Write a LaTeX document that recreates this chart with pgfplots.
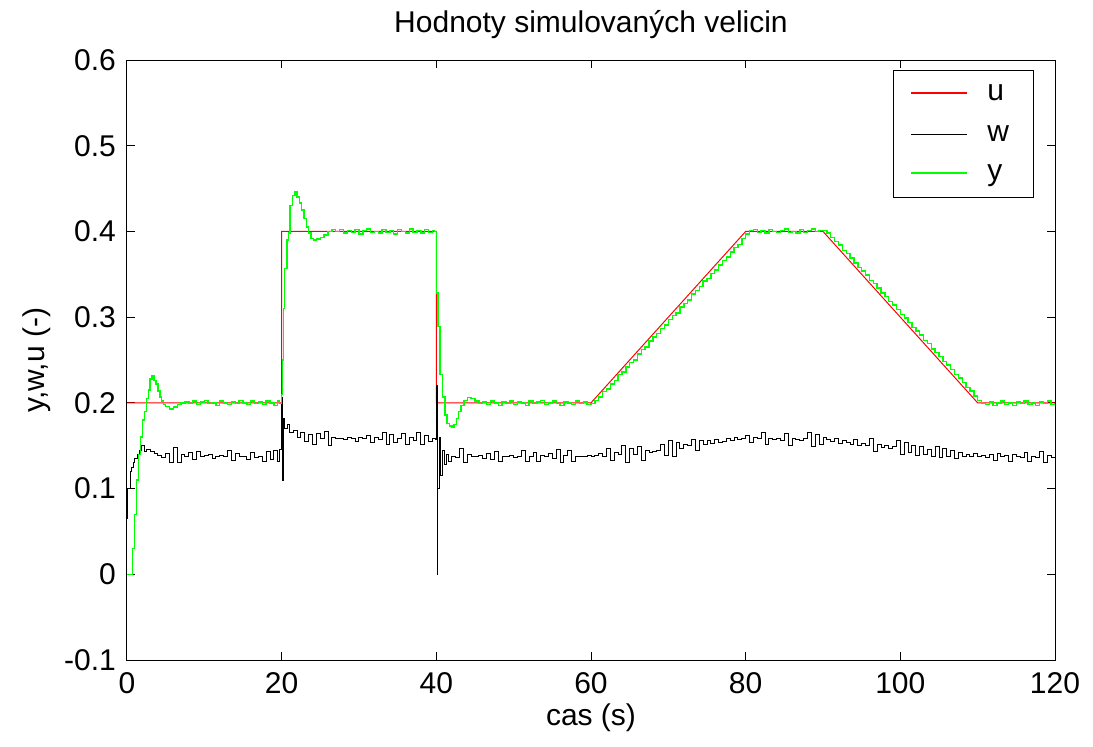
\documentclass[border=0pt]{standalone}
\usepackage{fontspec}
\setmainfont{Liberation Sans}
\usepackage{pgfplots}
\pgfplotsset{compat=1.18}
\newcommand{\figfont}{\fontsize{15}{18}\selectfont}

\begin{document}
\begin{tikzpicture}[font=\figfont]
\useasboundingbox (-63.5pt,-43pt) rectangle (483pt,330pt);
\begin{axis}[
  name=ax, at={(0,0)}, anchor=south west,
  scale only axis, width=464pt, height=300pt,
  xmin=0, xmax=120, ymin=-0.1, ymax=0.6,
  xtick={0,20,40,60,80,100,120},
  ytick={-0.1,0,0.1,0.2,0.3,0.4,0.5,0.6},
  yticklabels={-0.1,0,0.1,0.2,0.3,0.4,0.5,0.6},
  /pgf/number format/assume math mode=true,
  tick align=inside, major tick length=4pt,
  tick style={black, line width=0.5pt},
  axis line style={line width=0.5pt},
  tick label style={font=\figfont},
  yticklabel style={xshift=-2pt},
  xticklabel style={yshift=-2.5pt},
]
% u - setpoint
\addplot[color=red, line width=0.5pt] coordinates {
(0,0.2) (20,0.2) (20,0.4) (40,0.4) (40,0.2) (60,0.2) (80,0.4) (90,0.4) (110,0.2) (120,0.2)};
% w - control signal
\addplot[black, line width=0.5pt, const plot] coordinates {
(0,0.065) (0.1,0.1) (0.3,0.1) (0.4,0.12) (0.6,0.125) (0.8,0.13) (1.0,0.135) (1.3,0.14) (1.6,0.145) (1.9,0.15) (2.2,0.143)
(2.5,0.146) (3.0,0.143) (3.5,0.141) (4.0,0.139) (4.5,0.136) (5.0,0.141) (5.5,0.131) (6.0,0.148) (6.5,0.130) (7.0,0.140)
(7.5,0.138) (8.0,0.142) (8.5,0.134) (9.0,0.143) (9.5,0.137) (10,0.139) (10.5,0.140) (11,0.135) (11.5,0.138) (12,0.139)
(12.5,0.137) (13,0.145) (13.5,0.133) (14,0.141) (14.5,0.138) (15,0.137) (15.5,0.134) (16,0.142) (16.5,0.136) (17,0.138)
(17.5,0.132) (18,0.143) (18.5,0.134) (19,0.145) (19.5,0.132) (19.75,0.146) (20,0.206) (20.1,0.110) (20.2,0.182) (20.4,0.170)
(20.7,0.175) (21,0.165) (21.5,0.168) (22,0.160) (22.5,0.166) (23,0.155) (23.5,0.163) (24,0.151) (24.5,0.164) (25,0.158)
(25.5,0.167) (26,0.150) (26.5,0.160) (27,0.158) (27.5,0.159) (28,0.157) (28.5,0.160) (29,0.158) (29.5,0.155) (30,0.160)
(30.5,0.158) (31,0.162) (31.5,0.154) (32,0.160) (32.5,0.157) (33,0.165) (33.5,0.151) (34,0.163) (34.5,0.154) (35,0.158)
(35.5,0.164) (36,0.152) (36.5,0.160) (37,0.156) (37.5,0.165) (38,0.151) (38.5,0.162) (39,0.155) (39.5,0.159) (39.9,0.157)
(40,0.220) (40.1,0.0) (40.2,0.100) (40.4,0.160) (40.6,0.115) (40.8,0.145) (41,0.128) (41.3,0.140) (41.6,0.132) (42,0.138)
(42.5,0.136) (43,0.147) (43.5,0.131) (44,0.140) (44.5,0.137) (45,0.138) (45.5,0.139) (46,0.135) (46.5,0.141) (47,0.134)
(47.5,0.143) (48,0.132) (48.5,0.138) (49,0.137) (49.5,0.139) (50,0.136) (50.5,0.138) (51,0.144) (51.5,0.132) (52,0.138)
(52.5,0.142) (53,0.132) (53.5,0.139) (54,0.137) (54.5,0.141) (55,0.135) (55.5,0.146) (56,0.130) (56.5,0.139) (57,0.145)
(57.5,0.132) (58,0.137) (58.5,0.138) (59,0.137) (59.5,0.139) (60,0.137) (60.5,0.139) (61,0.141) (61.5,0.137) (62,0.147)
(62.5,0.133) (63,0.142) (63.5,0.140) (64,0.150) (64.5,0.130) (65,0.147) (65.5,0.140) (66,0.149) (66.5,0.133) (67,0.144)
(67.5,0.142) (68,0.143) (68.5,0.145) (69,0.151) (69.5,0.139) (70,0.156) (70.5,0.138) (71,0.154) (71.5,0.147) (72,0.151)
(72.5,0.150) (73,0.157) (73.5,0.145) (74,0.156) (74.5,0.152) (75,0.156) (75.5,0.153) (76,0.157) (76.5,0.154) (77,0.155)
(77.5,0.158) (78,0.156) (78.5,0.160) (79,0.157) (79.5,0.159) (80,0.162) (80.5,0.154) (81,0.160) (81.5,0.158) (82,0.166)
(82.5,0.151) (83,0.159) (83.5,0.157) (84,0.158) (84.5,0.156) (85,0.164) (85.5,0.150) (86,0.159) (86.5,0.157) (87,0.156)
(87.5,0.158) (88,0.166) (88.5,0.149) (89,0.163) (89.5,0.152) (90,0.160) (90.5,0.157) (91,0.155) (91.5,0.159) (92,0.153)
(92.5,0.156) (93,0.154) (93.5,0.152) (94,0.157) (94.5,0.150) (95,0.153) (95.5,0.150) (96,0.159) (96.5,0.143) (97,0.152)
(97.5,0.148) (98,0.150) (98.5,0.147) (99,0.149) (99.5,0.156) (100,0.140) (100.5,0.154) (101,0.142) (101.5,0.150) (102,0.139)
(102.5,0.149) (103,0.140) (103.5,0.146) (104,0.137) (104.5,0.149) (105,0.136) (105.5,0.147) (106,0.138) (106.5,0.144) (107,0.135)
(107.5,0.142) (108,0.138) (108.5,0.140) (109,0.137) (109.5,0.141) (110,0.138) (110.5,0.139) (111,0.136) (111.5,0.140) (112,0.133)
(112.5,0.141) (113,0.137) (113.5,0.139) (114,0.132) (114.5,0.140) (115,0.137) (115.5,0.136) (116,0.142) (116.5,0.132) (117,0.138)
(117.5,0.136) (118,0.143) (118.5,0.130) (119,0.139) (119.5,0.136) (120,0.137)};
% y - process output
\addplot[green, line width=0.7pt, const plot] coordinates {
(0,0) (0.5,0) (0.75,0.03) (1.0,0.07) (1.25,0.11) (1.5,0.14) (1.75,0.16) (2.0,0.18) (2.25,0.19) (2.5,0.205)
(2.75,0.215) (3.0,0.228) (3.25,0.232) (3.5,0.226) (3.75,0.222) (4.0,0.214) (4.25,0.207) (4.5,0.202) (4.75,0.198) (5.0,0.196)
(5.5,0.193) (6.0,0.195) (6.5,0.198) (7.0,0.200) (7.5,0.201) (8,0.199) (8.5,0.202) (9,0.198) (9.5,0.201) (10,0.203)
(10.5,0.199) (11,0.200) (11.5,0.197) (12,0.202) (12.5,0.200) (13,0.198) (13.5,0.201) (14,0.199) (14.5,0.203) (15,0.200)
(15.5,0.198) (16,0.202) (16.5,0.199) (17,0.201) (17.5,0.198) (18,0.202) (18.5,0.200) (19,0.197) (19.5,0.202) (19.75,0.199)
(20.0,0.21) (20.1,0.25) (20.2,0.31) (20.4,0.357) (20.7,0.39) (20.9,0.398) (21.1,0.43) (21.4,0.442) (21.7,0.446) (22.0,0.44)
(22.3,0.433) (22.6,0.425) (22.9,0.415) (23.2,0.405) (23.5,0.398) (23.8,0.392) (24.1,0.39) (24.5,0.391) (25.0,0.393) (25.5,0.396)
(26.0,0.4) (26.5,0.402) (27,0.400) (27.5,0.402) (28,0.398) (28.5,0.401) (29,0.399) (29.5,0.402) (30,0.397) (30.5,0.401)
(31,0.403) (31.5,0.399) (32,0.400) (32.5,0.398) (33,0.402) (33.5,0.399) (34,0.401) (34.5,0.397) (35,0.402) (35.5,0.400)
(36,0.398) (36.5,0.403) (37,0.399) (37.5,0.401) (38,0.398) (38.5,0.402) (39,0.399) (39.5,0.401) (39.8,0.400)
(40.0,0.328) (40.2,0.289) (40.5,0.233) (40.8,0.207) (41.1,0.186) (41.4,0.176) (41.7,0.173) (42.0,0.172) (42.3,0.175) (42.6,0.182)
(42.9,0.190) (43.2,0.197) (43.6,0.203) (44.0,0.206) (44.5,0.205) (45,0.202) (45.5,0.199) (46,0.201) (46.5,0.198) (47,0.202)
(47.5,0.200) (48,0.197) (48.5,0.201) (49,0.199) (49.5,0.202) (50,0.198) (50.5,0.201) (51,0.200) (51.5,0.197) (52,0.202)
(52.5,0.199) (53,0.201) (53.5,0.203) (54,0.198) (54.5,0.200) (55,0.202) (55.5,0.199) (56,0.197) (56.5,0.201) (57,0.200)
(57.5,0.198) (58,0.202) (58.5,0.199) (59,0.201) (59.5,0.198)
(60,0.199) (60.5,0.203) (61,0.207) (61.5,0.213) (62,0.216) (62.5,0.222) (63,0.226) (63.5,0.233) (64,0.236) (64.5,0.242)
(65,0.247) (65.5,0.250) (66,0.257) (66.5,0.262) (67,0.265) (67.5,0.272) (68,0.277) (68.5,0.281) (69,0.287) (69.5,0.291)
(70,0.297) (70.5,0.302) (71,0.305) (71.5,0.312) (72,0.316) (72.5,0.320) (73,0.327) (73.5,0.331) (74,0.336) (74.5,0.342)
(75,0.345) (75.5,0.351) (76,0.355) (76.5,0.361) (77,0.366) (77.5,0.370) (78,0.376) (78.5,0.381) (79,0.385) (79.5,0.392)
(80,0.397) (80.5,0.401) (81,0.402) (81.5,0.399) (82,0.401) (82.5,0.398) (83,0.402) (83.5,0.400) (84,0.399) (84.5,0.401)
(85,0.403) (85.5,0.399) (86,0.400) (86.5,0.398) (87,0.402) (87.5,0.399) (88,0.401) (88.5,0.403) (89,0.400) (89.5,0.401)
(90,0.401) (90.5,0.398) (91,0.393) (91.5,0.388) (92,0.384) (92.5,0.378) (93,0.374) (93.5,0.369) (94,0.363) (94.5,0.358)
(95,0.354) (95.5,0.349) (96,0.343) (96.5,0.339) (97,0.334) (97.5,0.328) (98,0.324) (98.5,0.318) (99,0.314) (99.5,0.309)
(100,0.303) (100.5,0.299) (101,0.294) (101.5,0.288) (102,0.284) (102.5,0.279) (103,0.273) (103.5,0.269) (104,0.263) (104.5,0.259)
(105,0.254) (105.5,0.248) (106,0.244) (106.5,0.239) (107,0.233) (107.5,0.229) (108,0.224) (108.5,0.218) (109,0.214) (109.5,0.208)
(110,0.203) (110.5,0.199) (111,0.198) (111.5,0.201) (112,0.197) (112.5,0.200) (113,0.202) (113.5,0.198) (114,0.200) (114.5,0.197)
(115,0.201) (115.5,0.199) (116,0.202) (116.5,0.198) (117,0.200) (117.5,0.197) (118,0.201) (118.5,0.199) (119,0.202) (119.5,0.198)
(120,0.200)};
\end{axis}
% legend box
\draw[black, line width=0.5pt, fill=white] (383pt,231.5pt) rectangle (453pt,294.5pt);
\draw[red, line width=0.6pt] (392pt,283.5pt) -- (420pt,283.5pt);
\draw[black, line width=0.5pt] (392pt,263pt) -- (420pt,263pt);
\draw[green, line width=0.6pt] (392pt,243.5pt) -- (420pt,243.5pt);
\node[anchor=base west, inner sep=0pt] at (430pt,279.6pt) {u};
\node[anchor=base west, inner sep=0pt] at (430pt,259.1pt) {w};
\node[anchor=base west, inner sep=0pt] at (430pt,239.6pt) {y};
\node at (232pt,317.5pt) {Hodnoty simulovaných velicin};
\node at (232pt,-29pt) {cas (s)};
\node[rotate=90] at (-45pt,150pt) {y,w,u (-)};
\end{tikzpicture}
\end{document}
